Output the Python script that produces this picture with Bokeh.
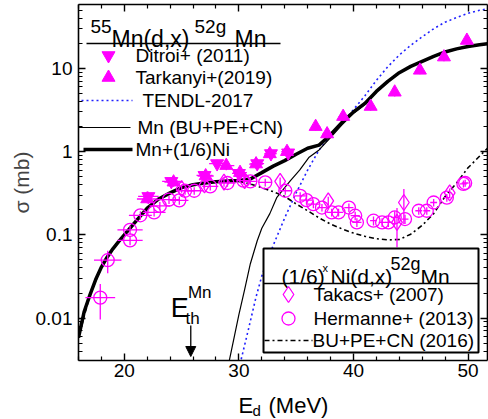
import numpy as np
from bokeh.plotting import figure
from bokeh.layouts import column
from bokeh.models import (FixedTicker, LinearAxis, LogAxis, Range1d,
                          CustomJSTickFormatter, Arrow, NormalHead)
from bokeh.core.properties import value
from bokeh.embed import file_html
from bokeh.resources import INLINE

# ---------------- data ----------------
# Mn+(1/6)Ni total (thick)
tot_x = [16.0, 16.5, 17.0, 17.5, 18.0, 18.5, 19.0, 19.5, 20.0, 21.0, 22.0, 23.0, 24.0, 25.0, 26.0,
         27.0, 28.0, 29.0, 30.0, 31.0, 32.0, 33.0, 34.0, 35.0, 36.0, 37.0, 38.0, 39.0, 40.0, 41.0,
         42.0, 43.0, 44.0, 45.0, 46.0, 47.0, 48.0, 49.0, 50.0, 51.0, 51.7]
tot_y = [0.0058, 0.012, 0.019, 0.029, 0.041, 0.054, 0.068, 0.083, 0.10, 0.145, 0.21, 0.27, 0.32,
         0.37, 0.40, 0.42, 0.435, 0.445, 0.45, 0.47, 0.56, 0.67, 0.78, 0.93, 1.10, 1.20, 1.60, 2.25,
         3.0, 3.8, 5.3, 7.0, 8.9, 10.6, 12.2, 14.0, 15.8, 17.2, 18.4, 19.3, 19.8]
# Mn (BU+PE+CN) thin
mn_x = [29.1, 29.6, 30.0, 30.5, 31.0, 31.6, 32.0, 32.7, 33.3, 34.0, 34.5, 35.3, 36.1, 37.0, 38.0,
        39.0, 40.0, 41.0, 42.0, 43.0, 44.0, 45.0, 46.0, 47.0, 48.0, 49.0, 50.0, 51.0, 51.7]
mn_y = [0.0028, 0.006, 0.011, 0.022, 0.045, 0.085, 0.12, 0.18, 0.28, 0.37, 0.45, 0.60, 0.85, 1.05,
        1.48, 2.1, 2.9, 3.7, 5.2, 6.9, 8.8, 10.5, 12.1, 13.8, 15.6, 17.0, 18.2, 19.1, 19.6]
# TENDL-2017
tendl_x = [30.1, 30.8, 31.5, 32.0, 32.5, 33.0, 34.0, 35.0, 36.0, 37.0, 38.0, 39.0, 40.0, 41.0,
           42.0, 43.0, 44.0, 45.0, 46.0, 47.0, 48.0, 49.0, 50.0, 51.0, 51.7]
tendl_y = [0.0028, 0.007, 0.018, 0.032, 0.05, 0.075, 0.16, 0.32, 0.60, 1.05, 1.55, 2.2, 3.2, 4.7,
           7.2, 10.5, 14.5, 19.0, 24.0, 30.0, 36.0, 41.0, 46.0, 50.0, 52.0]
# (1/6)Ni BU+PE+CN (2016)
ni_x = [16.0, 17.0, 18.0, 19.0, 20.0, 21.0, 22.0, 23.0, 24.0, 25.0, 26.0, 27.0, 28.0, 29.0, 30.0,
        31.0, 32.0, 33.0, 34.0, 35.0, 36.0, 37.0, 38.0, 39.0, 40.0, 41.0, 42.0, 43.0, 44.0, 45.0,
        46.0, 47.0, 48.0, 49.0, 50.0, 51.0, 51.7]
ni_y = [0.0058, 0.019, 0.041, 0.068, 0.10, 0.145, 0.21, 0.27, 0.32, 0.37, 0.40, 0.42, 0.435, 0.44,
        0.44, 0.41, 0.37, 0.33, 0.29, 0.235, 0.195, 0.16, 0.135, 0.118, 0.105, 0.096, 0.090, 0.087,
        0.088, 0.102, 0.13, 0.18, 0.29, 0.42, 0.64, 0.88, 1.10]

# Ditroi+ (2011) (down triangles)
dit_x = [22.1, 24.1, 27.0, 28.1, 30.0, 31.6, 32.8, 34.3]
dit_y = [0.29, 0.44, 0.52, 0.72, 0.55, 0.72, 0.95, 0.97]
dit_dx = [0.9, 0.8, 0.7, 0.7, 0.6, 0.6, 0.5, 0.5]
dit_dy = [0.04, 0.05, 0.06, 0.08, 0.06, 0.08, 0.10, 0.10]
# Tarkanyi+ (2019) (up triangles)
tar_x = [22.0, 24.3, 27.1, 28.9, 30.1, 31.5, 32.7, 34.2, 36.7, 37.7, 39.1, 41.5, 43.6, 45.8, 47.9, 49.9]
tar_y = [0.27, 0.43, 0.51, 0.68, 0.56, 0.71, 0.94, 1.0, 2.0, 1.63, 2.64, 3.49, 5.18, 9.5, 13.7, 21.7]
tar_dx = [0.9, 0.8, 0.7, 0.7, 0.6, 0.6, 0.5, 0.5, 0.4, 0.4, 0.4, 0.3, 0.3, 0.3, 0.3, 0.2]
tar_dy = [0.03, 0.05, 0.06, 0.08, 0.06, 0.08, 0.10, 0.11, 0.22, 0.18, 0.29, 0.38, 0.57, 1.0, 1.5, 2.4]
# Takacs+ (2007) (open diamonds)
tak_x = [25.0, 27.0, 28.7, 30.5, 33.6, 37.8, 43.8, 44.4, 48.4]
tak_y = [0.36, 0.40, 0.43, 0.45, 0.44, 0.257, 0.141, 0.245, 0.32]
tak_dy = [0.04, 0.04, 0.05, 0.05, 0.05, 0.03, 0.07, 0.11, 0.04]
# Hermanne+ (2013) (open circles)
her_x = [17.9, 18.55, 20.5, 20.5, 21.4, 22.6, 23.1, 23.9, 24.8, 25.3, 26.1, 27.5, 29.0, 30.4, 31.0,
         32.3, 34.05, 35.35, 35.9, 36.5, 37.25, 38.1, 38.7, 39.6, 40.15, 40.3, 41.75, 42.5, 43.05,
         43.6, 44.5, 45.7, 46.4, 47.0, 48.15, 49.6, 49.75]
her_y = [0.0176, 0.0496, 0.115, 0.086, 0.172, 0.186, 0.223, 0.265, 0.26, 0.339, 0.339, 0.382, 0.42,
         0.448, 0.44, 0.427, 0.339, 0.295, 0.262, 0.234, 0.213, 0.186, 0.186, 0.213, 0.17, 0.141,
         0.148, 0.141, 0.141, 0.162, 0.155, 0.195, 0.195, 0.245, 0.28, 0.41, 0.42]
her_dx = [1.3, 1.2, 1.1, 1.1, 1.0, 1.0, 0.9, 0.9, 0.8, 0.8, 0.8, 0.7, 0.7, 0.6, 0.6, 0.6, 0.5, 0.5,
          0.5, 0.5, 0.4, 0.4, 0.4, 0.4, 0.4, 0.4, 0.3, 0.3, 0.3, 0.3, 0.3, 0.3, 0.3, 0.3, 0.3, 0.3, 0.3]
her_dy = [0.008, 0.015, 0.015, 0.011, 0.02, 0.02, 0.025, 0.03, 0.03, 0.035, 0.035, 0.04, 0.04, 0.045,
          0.045, 0.045, 0.035, 0.03, 0.03, 0.025, 0.022, 0.02, 0.02, 0.025, 0.02, 0.017, 0.018,
          0.017, 0.017, 0.03, 0.02, 0.02, 0.02, 0.025, 0.03, 0.04, 0.04]

E_TH_MN = 25.8
x_ticks = [20, 30, 40, 50]
y_ticks = [0.01, 0.1, 1, 10]

# ---------------- layout helpers ----------------
W, H = 488, 419
L, R, T, B = 78, 487, 4, 360
BOTTOM_PANEL = 28               # x tick labels live in the main figure
MAIN_H = B + BOTTOM_PANEL       # 388
LABEL_H = H - MAIN_H            # strip below for the x-axis title
X0, X1 = 16.0, 51.7
YB, YT = -2.51, 1.769


def dx(px):
    return X0 + (px - L) / (R - L) * (X1 - X0)


def dy(py):
    return 10 ** (YT - (py - T) / (B - T) * (YT - YB))


FONT = value("Liberation Sans")
MAG = "#FF00FF"
DOT = "2 3"
DASHDOT = "5 3 2 3"

xr = Range1d(X0, X1)
p = figure(width=W, height=MAIN_H, x_range=xr,
           y_range=Range1d(10 ** YB, 10 ** YT), y_axis_type="log",
           output_backend="svg", toolbar_location=None,
           min_border_left=L, min_border_right=0, min_border_top=T, min_border_bottom=BOTTOM_PANEL)
p.xgrid.visible = False
p.ygrid.visible = False
p.outline_line_color = None
p.background_fill_color = "white"

x_minor = [v for v in range(16, 52, 2) if v not in x_ticks]
y_minor = [m * 10.0 ** k for k in range(-3, 2) for m in range(2, 10)]
xt = FixedTicker(ticks=x_ticks, minor_ticks=x_minor)
yt = FixedTicker(ticks=y_ticks, minor_ticks=y_minor)


def style_axis(ax):
    ax.axis_line_width = 1.6
    ax.axis_line_color = "black"
    ax.major_tick_in = 7
    ax.major_tick_out = 0
    ax.minor_tick_in = 4
    ax.minor_tick_out = 0
    ax.major_tick_line_width = 1.4
    ax.minor_tick_line_width = 1.2
    ax.major_tick_line_color = "black"
    ax.minor_tick_line_color = "black"
    ax.major_label_text_font = "Liberation Sans"
    ax.major_label_text_font_size = "19px"
    ax.major_label_text_color = "black"
    ax.major_label_standoff = 6


p.xaxis.ticker = xt
p.yaxis.ticker = yt
p.yaxis.formatter = CustomJSTickFormatter(code="return String(tick);")
style_axis(p.xaxis[0])
style_axis(p.yaxis[0])
p.xaxis.major_label_standoff = 3
p.yaxis.axis_label = "σ (mb)"
p.yaxis.axis_label_text_font = "Liberation Sans"
p.yaxis.axis_label_text_font_size = "21px"
p.yaxis.axis_label_text_font_style = "normal"
p.yaxis.axis_label_standoff = 0

# mirrored axes with inward ticks only (no labels)
top_ax = LinearAxis(ticker=xt)
style_axis(top_ax)
top_ax.major_label_text_font_size = "1px"
top_ax.major_label_text_color = None
top_ax.major_label_standoff = 0
top_ax.major_label_overrides = {v: " " for v in x_ticks}
p.add_layout(top_ax, "above")
right_ax = LogAxis(ticker=yt)
style_axis(right_ax)
right_ax.major_label_text_font_size = "1px"
right_ax.major_label_text_color = None
right_ax.major_label_standoff = 0
right_ax.formatter = CustomJSTickFormatter(code="return ' ';")
p.add_layout(right_ax, "right")

# ---------------- curves ----------------
p.line(tendl_x, tendl_y, line_color="#2020FF", line_width=1.6, line_dash=DOT)
p.line(mn_x, mn_y, line_color="black", line_width=1.2)
p.line(ni_x, ni_y, line_color="black", line_width=1.6, line_dash=DASHDOT)
p.line(tot_x, tot_y, line_color="black", line_width=3.5)


# ---------------- error bars & markers ----------------
def errbars(xs, ys, dxs, dys):
    if dxs:
        p.segment(x0=[x - d for x, d in zip(xs, dxs)], x1=[x + d for x, d in zip(xs, dxs)],
                  y0=ys, y1=ys, line_color=MAG, line_width=1.3)
    if dys:
        p.segment(x0=xs, x1=xs, y0=[y - d for y, d in zip(ys, dys)],
                  y1=[y + d for y, d in zip(ys, dys)], line_color=MAG, line_width=1.3)


errbars(her_x, her_y, her_dx, her_dy)
errbars(tak_x, tak_y, None, tak_dy)
errbars(dit_x, dit_y, dit_dx, dit_dy)
errbars(tar_x, tar_y, tar_dx, tar_dy)

p.scatter(her_x, her_y, marker="circle", size=13, fill_alpha=0, line_color=MAG, line_width=1.3)
p.scatter(tak_x, tak_y, marker="diamond", size=16, fill_alpha=0, line_color=MAG, line_width=1.3)
p.scatter(dit_x, dit_y, marker="inverted_triangle", size=13, fill_color=MAG, line_color=MAG)
p.scatter(tar_x, tar_y, marker="triangle", size=13, fill_color=MAG, line_color=MAG)


def txt(px, py, s, size, baseline="alphabetic", align="left"):
    p.text(x=[dx(px)], y=[dy(py)], text=[s], text_font=FONT, text_font_size=value(size),
           text_baseline=baseline, text_align=align, text_color="black")


# ---------------- legend 1 (top-left) ----------------
txt(90, 26, "55", "19px")
txt(111, 38, "Mn(d,x)", "23px")
txt(194, 26, "52g", "19px")
txt(234, 38, "Mn", "23px")
p.line([dx(86), dx(280)], [dy(43), dy(43)], line_color="black", line_width=1.5)

p.scatter([dx(108)], [dy(55)], marker="inverted_triangle", size=13, fill_color=MAG, line_color=MAG)
txt(135, 55, "Ditroi+ (2011)", "19px", baseline="middle")
p.scatter([dx(108)], [dy(77)], marker="triangle", size=13, fill_color=MAG, line_color=MAG)
txt(135, 77, "Tarkanyi+(2019)", "19px", baseline="middle")
p.line([dx(81), dx(132)], [dy(100), dy(100)], line_color="#2020FF", line_width=1.6, line_dash=DOT)
txt(142, 100, "TENDL-2017", "19px", baseline="middle")
p.line([dx(78), dx(130)], [dy(127), dy(127)], line_color="black", line_width=1.2)
txt(137, 127, "Mn (BU+PE+CN)", "19px", baseline="middle")
p.line([dx(83), dx(132)], [dy(149), dy(149)], line_color="black", line_width=3.5)
txt(135, 149, "Mn+(1/6)Ni", "19px", baseline="middle")

# ---------------- legend 2 (bottom-right) ----------------
p.quad(left=[dx(263)], right=[dx(478)], top=[dy(248)], bottom=[dy(352)],
       fill_color="white", line_color="black", line_width=2)
txt(281, 276, "(1/6)", "21px")
txt(322, 267, "x", "11px")
txt(330, 276, "Ni(d,x)", "21px")
txt(390, 263, "52g", "18px")
txt(420, 276, "Mn", "21px")
p.line([dx(263), dx(478)], [dy(283), dy(283)], line_color="black", line_width=1.5)
p.scatter([dx(288)], [dy(294)], marker="diamond", size=16, fill_alpha=0, line_color=MAG, line_width=1.3)
txt(313, 294, "Takacs+ (2007)", "19px", baseline="middle")
p.scatter([dx(288)], [dy(318)], marker="circle", size=13, fill_alpha=0, line_color=MAG, line_width=1.3)
txt(313, 318, "Hermanne+ (2013)", "19px", baseline="middle")
p.line([dx(264), dx(312)], [dy(340), dy(340)], line_color="black", line_width=1.6, line_dash=DASHDOT)
txt(312, 340, "BU+PE+CN (2016)", "19px", baseline="middle")

# ---------------- threshold annotation ----------------
xth = E_TH_MN
p.text(x=[xth - 1.75], y=[dy(307)], text=["E"], text_font=FONT, text_font_size=value("27px"),
       text_baseline="alphabetic", text_align="left")
p.text(x=[xth - 0.25], y=[dy(292)], text=["Mn"], text_font=FONT, text_font_size=value("17px"),
       text_baseline="alphabetic", text_align="left")
p.text(x=[xth - 0.45], y=[dy(318)], text=["th"], text_font=FONT, text_font_size=value("17px"),
       text_baseline="alphabetic", text_align="left")
p.add_layout(Arrow(end=NormalHead(size=10, fill_color="black", line_color="black"),
                   x_start=xth, y_start=dy(325), x_end=xth, y_end=dy(356),
                   line_color="black", line_width=1.3))

# ---------------- x-axis title strip (shares the x range; frame aligned with main plot) ----------------
lab = figure(width=W, height=LABEL_H, x_range=xr,
             y_range=Range1d(H, MAIN_H), output_backend="svg", toolbar_location=None,
             x_axis_location=None, y_axis_location=None,
             min_border_left=L, min_border_right=W - R, min_border_top=0, min_border_bottom=0,
             outline_line_color=None)
lab.grid.visible = False
for s, px, py, fs in [("E", 238, 405, "22px"), ("d", 252, 410, "15px"), ("(MeV)", 268, 405, "22px")]:
    lab.text(x=[dx(px)], y=[py], text=[s], text_font=FONT, text_font_size=value(fs),
             text_baseline="alphabetic", text_align="left", text_color="black")

layout = column(p, lab, spacing=0)
open("out.html", "w").write(file_html(layout, INLINE))
